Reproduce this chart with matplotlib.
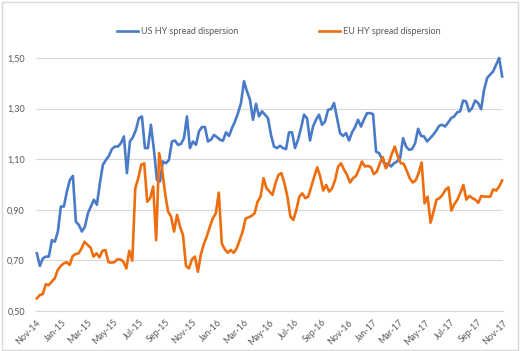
import matplotlib
matplotlib.use("Agg")
import matplotlib.pyplot as plt
import pandas as pd
from matplotlib.patches import Rectangle

# 1 data (weekly values)
us_values = [
    0.728, 0.678, 0.708, 0.715, 0.715, 0.78, 0.774, 0.814, 0.913, 0.913,
    0.972, 1.018, 1.034, 0.853, 0.84, 0.814, 0.833, 0.886, 0.913, 0.94,
    0.92, 1.005, 1.078, 1.097, 1.113, 1.14, 1.15, 1.15, 1.163, 1.19,
    1.045, 1.17, 1.187, 1.216, 1.262, 1.269, 1.144, 1.144, 1.236,
    1.137, 1.018, 1.012, 1.091, 1.084, 1.097, 1.17, 1.174, 1.157, 1.16,
    1.183, 1.269, 1.144, 1.17, 1.157, 1.21, 1.227, 1.227, 1.17, 1.177,
    1.196, 1.187, 1.177, 1.173, 1.206, 1.192, 1.223, 1.249, 1.282, 1.322,
    1.408, 1.368, 1.335, 1.256, 1.319, 1.269, 1.289, 1.276,
    1.262, 1.196, 1.15, 1.144, 1.153, 1.144, 1.14, 1.206, 1.206, 1.144,
    1.177, 1.223, 1.276, 1.262, 1.174, 1.229, 1.256, 1.276, 1.236, 1.249,
    1.295, 1.298, 1.322, 1.262, 1.203, 1.192, 1.203, 1.174, 1.206, 1.227,
    1.256, 1.229, 1.258, 1.282, 1.282, 1.278, 1.130, 1.124, 1.10, 1.078,
    1.084, 1.071, 1.084, 1.091, 1.104, 1.183, 1.15, 1.137, 1.14, 1.163,
    1.22, 1.192, 1.19, 1.17, 1.183, 1.196, 1.212, 1.232, 1.236, 1.229,
    1.245, 1.262, 1.269, 1.285, 1.289, 1.332, 1.328, 1.289, 1.302, 1.332,
    1.322, 1.298, 1.375, 1.421, 1.434, 1.447, 1.474, 1.50, 1.427,
]
eu_values = [
    0.55, 0.563, 0.567, 0.606, 0.602, 0.616, 0.629, 0.662, 0.678, 0.688,
    0.693, 0.682, 0.717, 0.725, 0.728, 0.748, 0.774, 0.761, 0.751, 0.715,
    0.728, 0.712, 0.738, 0.741, 0.693, 0.691, 0.693, 0.704, 0.704, 0.695,
    0.668, 0.738, 0.699, 0.985, 1.025, 1.078, 1.084, 0.932, 0.946,
    0.992, 0.78, 1.124, 1.058, 0.965, 0.893, 0.873, 0.814, 0.88, 0.833,
    0.80, 0.678, 0.668, 0.704, 0.715, 0.655, 0.725, 0.765, 0.796, 0.833,
    0.866, 0.886, 0.968, 0.767, 0.744, 0.73, 0.741, 0.73, 0.748, 0.78,
    0.814, 0.866, 0.87, 0.876, 0.886, 0.932, 0.952, 1.025,
    0.985, 0.972, 0.959, 1.005, 1.038, 1.045, 1.005, 0.952, 0.873, 0.86,
    0.90, 0.952, 0.965, 0.946, 0.952, 0.992, 1.031, 1.068, 1.031, 0.976,
    0.998, 0.972, 0.985, 1.018, 1.071, 1.084, 1.058, 1.038, 1.008, 1.025,
    1.034, 1.06, 1.091, 1.071, 1.074, 1.068, 1.041, 1.051, 1.084,
    1.108, 1.064, 1.084, 1.121, 1.15, 1.111, 1.084, 1.082, 1.055, 1.025,
    1.008, 1.016, 1.045, 1.087, 0.926, 0.952, 0.849, 0.893, 0.94, 0.946,
    0.959, 0.979, 0.989, 0.897, 0.923, 0.94, 0.968, 0.998, 0.94, 0.955,
    0.946, 0.94, 0.928, 0.955, 0.952, 0.952, 0.952, 0.981, 0.976, 0.992, 1.016,
]
series_names = ["US HY spread dispersion", "EU HY spread dispersion"]
y_ticks = [0.50, 0.70, 0.90, 1.10, 1.30, 1.50]
first_week = "2014-11-03"
last_week = "2017-10-30"


def main():
    plt.rcParams["font.family"] = ["Lato", "DejaVu Sans"]
    us_dates = pd.date_range(first_week, last_week, periods=len(us_values))
    eu_dates = pd.date_range(first_week, last_week, periods=len(eu_values))

    # 2 canvas
    fig = plt.figure(figsize=(5.21, 3.51), dpi=100)
    fig.patches.append(Rectangle((0.004, 0.004), 0.99, 0.99, transform=fig.transFigure,
                                 fill=False, edgecolor="#D9D9D9", lw=1))
    ax = fig.add_axes([36 / 521, 1 - 311 / 351, 467 / 521, 253 / 351])

    # 3 lines
    l1, = ax.plot(us_dates, us_values, color="#4A7BC8", lw=1.9, clip_on=False)
    l2, = ax.plot(eu_dates, eu_values, color="#EE6E0E", lw=1.9, clip_on=False)

    # 4 axes
    ax.set_ylim(0.5, 1.5)
    ax.set_xlim(pd.Timestamp("2014-11-01"), pd.Timestamp("2017-11-01"))
    ax.set_yticks(y_ticks)
    ax.set_yticklabels([f"{v:.2f}".replace(".", ",") for v in y_ticks])
    x_ticks = pd.date_range("2014-11-01", "2017-11-01", freq="2MS")
    ax.set_xticks(x_ticks)
    ax.set_xticklabels([d.strftime("%b-%y") for d in x_ticks], rotation=45,
                       ha="right", rotation_mode="anchor")
    ax.yaxis.grid(True, color="#D9D9D9", lw=0.8)
    ax.set_axisbelow(True)
    for s in ["top", "right", "left"]:
        ax.spines[s].set_visible(False)
    ax.spines["bottom"].set_color("#D9D9D9")
    ax.tick_params(axis="both", length=0, labelsize=6.5, colors="#595959")
    ax.tick_params(axis="y", pad=8)
    ax.tick_params(axis="x", pad=5)

    # 5 legend
    fig.legend([l1, l2], series_names, loc="center", bbox_to_anchor=(0.535, 0.909),
               ncol=2, frameon=False, fontsize=6.5, handlelength=2.3,
               columnspacing=9, labelcolor="#595959", handletextpad=0.3)

    fig.savefig("out.png", dpi=100)


if __name__ == '__main__':
    main()
